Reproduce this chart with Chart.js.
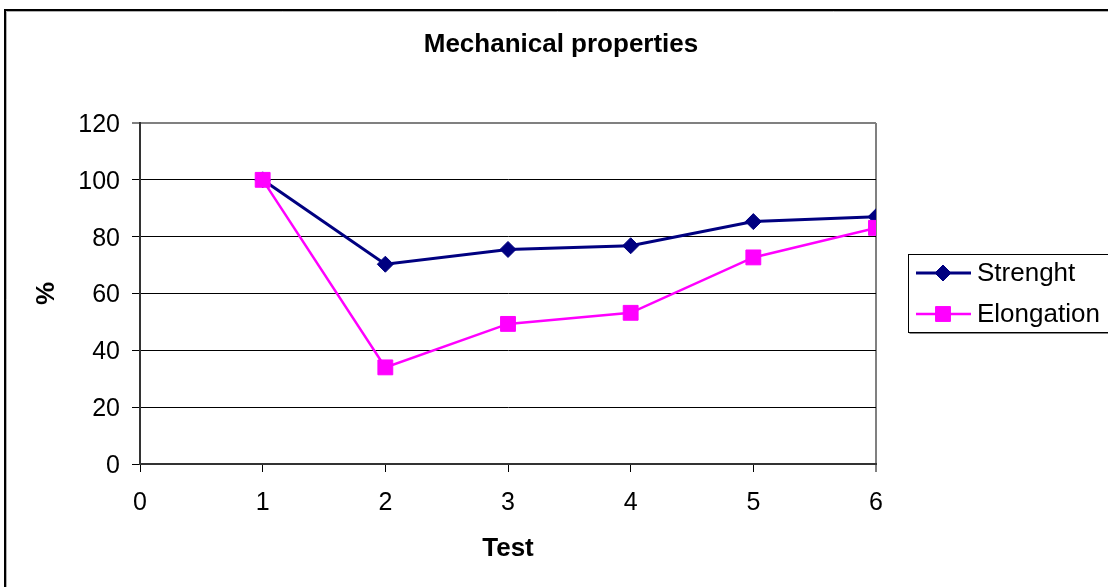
<!DOCTYPE html>
<html>
<head>
<meta charset="utf-8">
<script src="https://cdn.jsdelivr.net/npm/chart.js@4/dist/chart.umd.min.js"></script>
<style>
  html, body { margin: 0; padding: 0; background: #fff; }
  #wrap { width: 1108px; height: 587px; position: relative; }
</style>
</head>
<body>
<div id="wrap"><canvas id="c" width="1108" height="587"></canvas></div>
<script>
// Test numbers and the two measured series (percent of the reference sample)
const chartTitle = 'Mechanical properties';
const tests = [1, 2, 3, 4, 5, 6];
const strength = [100, 70.3, 75.5, 76.8, 85.3, 87.0];
const elongation = [100, 34.0, 49.3, 53.2, 72.7, 83.1];
const seriesNames = ['Strenght', 'Elongation'];
const xTitle = 'Test';
const yTitle = '%';

const FONT = "'Liberation Sans', Arial, sans-serif";
const NAVY = '#000080';
const MAGENTA = '#FF00FF';

// Outer frame, chart title and the boxed legend on the right
const decorations = {
  id: 'decorations',
  beforeDraw(chart) {
    const ctx = chart.ctx;
    ctx.save();
    ctx.fillStyle = '#fff';
    ctx.fillRect(0, 0, chart.width, chart.height);
    ctx.restore();
  },
  afterDraw(chart) {
    const ctx = chart.ctx;
    ctx.save();
    // frame (runs past the right and bottom edges)
    ctx.strokeStyle = '#000';
    ctx.lineWidth = 2;
    ctx.beginPath();
    ctx.moveTo(5, chart.height + 5);
    ctx.lineTo(5, 10);
    ctx.lineTo(chart.width + 5, 10);
    ctx.stroke();
    ctx.strokeStyle = '#b0b0b0';
    ctx.lineWidth = 1;
    ctx.beginPath();
    ctx.moveTo(6.5, chart.height + 5);
    ctx.lineTo(6.5, 11.5);
    ctx.lineTo(chart.width + 5, 11.5);
    ctx.stroke();

    // title
    ctx.fillStyle = '#000';
    ctx.font = 'bold 26px ' + FONT;
    ctx.textAlign = 'center';
    ctx.textBaseline = 'middle';
    ctx.fillText(chartTitle, 561, 45);

    // legend box
    const bx = 908.5, by = 254.5, bw = 210, bh = 78;
    ctx.strokeStyle = '#000';
    ctx.lineWidth = 1;
    ctx.strokeRect(bx, by, bw, bh);
    ctx.strokeStyle = '#888';
    ctx.beginPath();
    ctx.moveTo(bx + 1, by + bh + 1);
    ctx.lineTo(chart.width, by + bh + 1);
    ctx.stroke();

    const rows = [273, 314];
    chart.data.datasets.forEach((ds, i) => {
      const y = rows[i];
      ctx.strokeStyle = ds.borderColor;
      ctx.lineWidth = ds.borderWidth;
      ctx.beginPath();
      ctx.moveTo(916, y);
      ctx.lineTo(971, y);
      ctx.stroke();
      ctx.fillStyle = ds.pointBackgroundColor;
      ctx.strokeStyle = ds.pointBorderColor;
      ctx.lineWidth = 1;
      Chart.helpers.drawPoint(ctx, {
        pointStyle: ds.pointStyle,
        radius: ds.pointRadius,
        rotation: 0,
        borderWidth: 1
      }, 943, y);
      ctx.fillStyle = '#000';
      ctx.font = '26px ' + FONT;
      ctx.textAlign = 'left';
      ctx.textBaseline = 'middle';
      ctx.fillText(ds.label, 977, y + 1);
    });
    ctx.restore();
  }
};

const toPoints = (vals) => tests.map((t, i) => ({ x: t, y: vals[i] }));

new Chart(document.getElementById('c'), {
  type: 'line',
  data: {
    datasets: [
      {
        label: seriesNames[0],
        data: toPoints(strength),
        borderColor: NAVY,
        backgroundColor: NAVY,
        borderWidth: 3,
        pointStyle: 'rectRot',
        pointRadius: 8,
        pointHoverRadius: 8,
        pointBackgroundColor: NAVY,
        pointBorderColor: NAVY,
        pointBorderWidth: 1,
        tension: 0,
        order: 2
      },
      {
        label: seriesNames[1],
        data: toPoints(elongation),
        borderColor: MAGENTA,
        backgroundColor: MAGENTA,
        borderWidth: 2.5,
        pointStyle: 'rect',
        pointRadius: 10.5,
        pointHoverRadius: 10.5,
        pointBackgroundColor: MAGENTA,
        pointBorderColor: MAGENTA,
        pointBorderWidth: 1,
        tension: 0,
        order: 1
      }
    ]
  },
  options: {
    responsive: false,
    animation: false,
    events: [],
    layout: { padding: { left: 0, top: 123, right: 232, bottom: 0 } },
    plugins: {
      legend: { display: false },
      title: { display: false },
      tooltip: { enabled: false }
    },
    scales: {
      x: {
        type: 'linear',
        min: 0,
        max: 6,
        afterFit: (s) => { s.height = 123; },
        ticks: {
          stepSize: 1,
          color: '#000',
          padding: 16,
          font: { family: FONT, size: 25 }
        },
        grid: {
          drawOnChartArea: true,
          drawTicks: true,
          tickLength: 8,
          color: (c) => (c.tick && c.tick.value === 6 ? '#808080' : 'rgba(0,0,0,0)'),
          lineWidth: (c) => (c.tick && c.tick.value === 6 ? 2 : 1),
          tickColor: '#000',
          tickWidth: 1
        },
        border: { display: true, color: '#333', width: 2 },
        title: {
          display: true,
          text: xTitle,
          color: '#000',
          font: { family: FONT, size: 26, weight: 'bold' },
          padding: { top: 0, bottom: 23 }
        }
      },
      y: {
        type: 'linear',
        min: 0,
        max: 120,
        afterFit: (s) => { s.width = 140; },
        ticks: {
          stepSize: 20,
          color: '#000',
          padding: 12,
          labelOffset: 2,
          font: { family: FONT, size: 25 }
        },
        grid: {
          drawOnChartArea: true,
          tickLength: 8,
          color: (c) => (c.tick && c.tick.value === 120 ? '#808080' : '#000'),
          lineWidth: (c) => (c.tick && c.tick.value === 120 ? 2 : 1),
          tickColor: '#000',
          tickWidth: 1
        },
        border: { display: true, color: '#333', width: 2 },
        title: {
          display: true,
          text: yTitle,
          color: '#000',
          font: { family: FONT, size: 26, weight: 'bold' },
          padding: { top: 31, bottom: 0 }
        }
      }
    }
  },
  plugins: [decorations]
});
</script>
</body>
</html>
